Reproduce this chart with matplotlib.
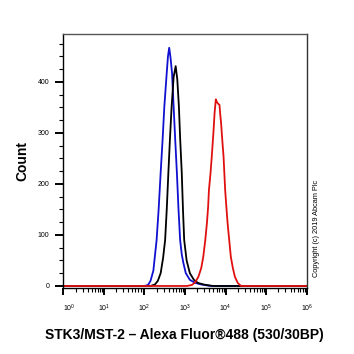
import matplotlib
matplotlib.use("Agg")
import matplotlib.pyplot as plt
import matplotlib.transforms as mtransforms
import numpy as np
from matplotlib.ticker import LogLocator, MultipleLocator

plt.rcParams['font.family'] = ['Liberation Sans', 'DejaVu Sans']
plt.rcParams['mathtext.fontset'] = 'custom'
plt.rcParams['mathtext.rm'] = 'Liberation Sans'

# histogram outlines: log10 fluorescence vs count
blue_log = [0.00, 2.00, 2.09, 2.15, 2.22, 2.30, 2.35, 2.40, 2.45, 2.49, 2.55, 2.58, 2.61,
            2.64, 2.68, 2.72, 2.76, 2.80, 2.84, 2.88, 2.92, 2.96, 3.02, 3.12, 3.25,
            3.40, 3.55, 3.65, 6.00]
blue_cnt = [0, 0, 2, 10, 30, 90, 150, 222, 290, 351, 418, 450, 467,
            450, 418, 351, 285, 222, 150, 90, 62, 45, 25, 12, 6,
            3, 1, 0, 0]

black_log = [0.00, 2.15, 2.26, 2.33, 2.40, 2.46, 2.51, 2.55, 2.59, 2.63, 2.67, 2.72, 2.77,
             2.81, 2.85, 2.88, 2.92, 2.95, 2.98, 3.04, 3.12, 3.22, 3.32, 3.45, 3.60,
             3.70, 6.00]
black_cnt = [0, 0, 3, 10, 25, 55, 90, 150, 222, 290, 351, 410, 431,
             405, 351, 290, 222, 150, 90, 50, 25, 12, 6, 3, 1,
             0, 0]

red_log = [0.00, 3.05, 3.17, 3.25, 3.33, 3.40, 3.45, 3.50, 3.54, 3.57, 3.59, 3.63, 3.66,
           3.70, 3.73, 3.76, 3.79, 3.82, 3.85, 3.87, 3.89, 3.92, 3.95, 3.99, 4.02,
           4.05, 4.09, 4.13, 4.18, 4.23, 4.30, 4.38, 6.00]
red_cnt = [0, 0, 2, 7, 18, 35, 57, 90, 123, 155, 188, 222, 254,
           300, 340, 366, 360, 357, 355, 335, 319, 285, 254, 188, 155,
           123, 90, 57, 35, 18, 6, 0, 0]

fig = plt.figure(figsize=(3.54, 3.54), dpi=100)
ax = fig.add_axes([63.3 / 354, 1 - 287.5 / 354, (306.7 - 63.3) / 354, (287.5 - 34) / 354])

ax.plot(10 ** np.array(blue_log), blue_cnt, color='#1010d0', lw=1.3)
ax.plot(10 ** np.array(black_log), black_cnt, color='black', lw=1.3)
ax.plot(10 ** np.array(red_log), red_cnt, color='#e01010', lw=1.3)

ax.set_xscale('log')
ax.set_xlim(1, 1e6)
ax.set_ylim(-3, 494)
ax.xaxis.set_major_locator(LogLocator(base=10, numticks=10))
ax.xaxis.set_minor_locator(LogLocator(base=10, subs=np.arange(2, 10), numticks=20))
ax.yaxis.set_major_locator(MultipleLocator(100))
ax.yaxis.set_minor_locator(MultipleLocator(25))

ax.tick_params(axis='both', which='major', labelsize=5, width=1.4, direction='out')
ax.tick_params(axis='y', which='major', length=6, pad=4)
ax.tick_params(axis='x', which='major', length=5, pad=6)
ax.tick_params(axis='both', which='minor', length=3, width=0.8)

for s in ax.spines.values():
    s.set_linewidth(1.0)
ax.spines['top'].set_color('#555555')
ax.spines['right'].set_color('#333333')

fig.canvas.draw()
off = mtransforms.ScaledTranslation(6 / 100, 0, fig.dpi_scale_trans)
for t in ax.get_xticklabels():
    if t.get_position()[0] == 1:
        t.set_transform(t.get_transform() + off)

ax.set_ylabel('Count', fontsize=10, fontweight='bold')
ax.yaxis.set_label_coords(-0.14, 0.5)
fig.text(184 / 354, 1 - 335 / 354, 'STK3/MST-2 – Alexa Fluor®488 (530/30BP)',
         fontsize=10, fontweight='bold', ha='center', va='center')
fig.text(317 / 354, 1 - 228 / 354, 'Copyright (c) 2019 Abcam Plc',
         fontsize=5.3, rotation=90, ha='center', va='center')

fig.savefig('out.png', dpi=100)
